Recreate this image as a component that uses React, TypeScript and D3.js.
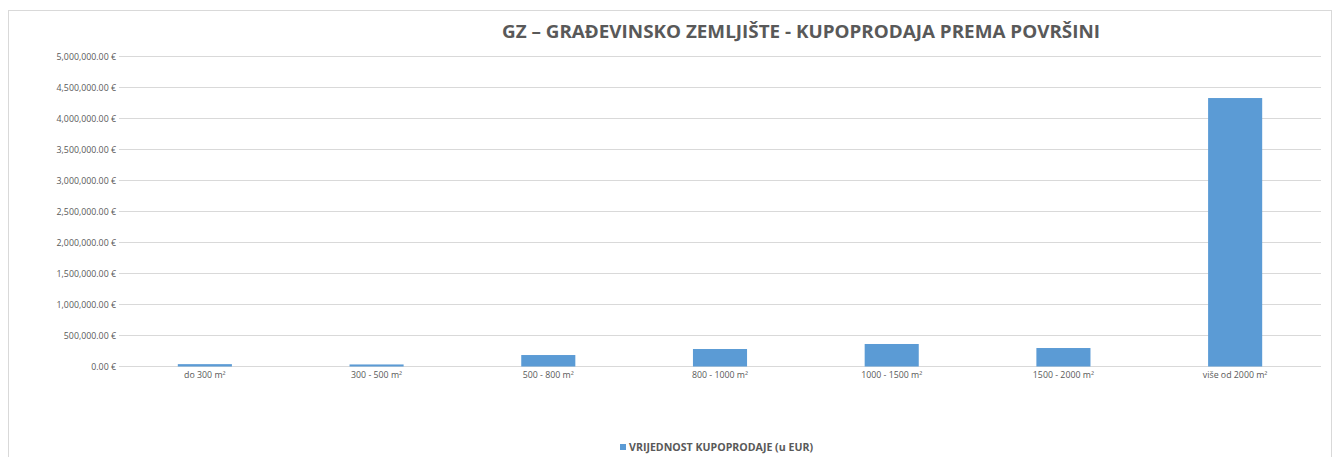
import React from "react";
import * as d3 from "d3";

const categories = ["do 300 m²", "300 - 500 m²", "500 - 800 m²", "800 - 1000 m²", "1000 - 1500 m²", "1500 - 2000 m²", "više od 2000 m²"];
const values = [38000, 33000, 185000, 282000, 363000, 298000, 4330000];
const yTicks = [0, 500000, 1000000, 1500000, 2000000, 2500000, 3000000, 3500000, 4000000, 4500000, 5000000];
const title = "GZ – GRAĐEVINSKO ZEMLJIŠTE - KUPOPRODAJA PREMA POVRŠINI";
const seriesName = "VRIJEDNOST KUPOPRODAJE (u EUR)";

const W = 1340, H = 457;
const left = 119, right = 1321, top = 56.5, bottom = 366.5;
const font = "'Open Sans', 'Noto Sans', sans-serif";
const fmt = (v: number) => d3.format(",.2f")(v) + " €";

export default function App() {
  const x = d3.scaleBand<string>().domain(categories).range([left, right]).paddingInner(0.685).paddingOuter(0.3425);
  const y = d3.scaleLinear().domain([0, 5000000]).range([bottom, top]);
  return (
    <div style={{ position: "absolute", left: 0, top: 0 }}>
      <svg width={W} height={H} style={{ display: "block" }}>
        <rect x={0} y={0} width={W} height={H} fill="#fff" />
        <rect x={8.5} y={10.5} width={1323} height={460} fill="#fff" stroke="#d9d9d9" strokeWidth={1} />
        <text x={801} y={38} textAnchor="middle" fontFamily={font} fontWeight={700} fontSize={18.5} textLength={598} lengthAdjust="spacingAndGlyphs" fill="#595959">{title}</text>
        {yTicks.map((t) => (
          <g key={t}>
            <line x1={left} x2={right} y1={y(t)} y2={y(t)} stroke="#d9d9d9" strokeWidth={1} />
            <text x={left - 3} y={y(t)} dy="0.35em" textAnchor="end" fontFamily={font} fontSize={8.8} fill="#595959">{fmt(t)}</text>
          </g>
        ))}
        {categories.map((c, i) => (
          <rect key={c} x={x(c)} y={y(values[i])} width={x.bandwidth()} height={y(0) - y(values[i])} fill="#5b9bd5" />
        ))}
        {categories.map((c) => (
          <text key={c} x={(x(c) as number) + x.bandwidth() / 2} y={377.5} textAnchor="middle" fontFamily={font} fontSize={8.8} fill="#595959">{c}</text>
        ))}
        <rect x={620} y={444} width={6} height={6} fill="#5b9bd5" />
        <text x={629} y={451} fontFamily={font} fontWeight={700} fontSize={10.3} textLength={184} lengthAdjust="spacingAndGlyphs" fill="#595959">{seriesName}</text>
      </svg>
    </div>
  );
}
